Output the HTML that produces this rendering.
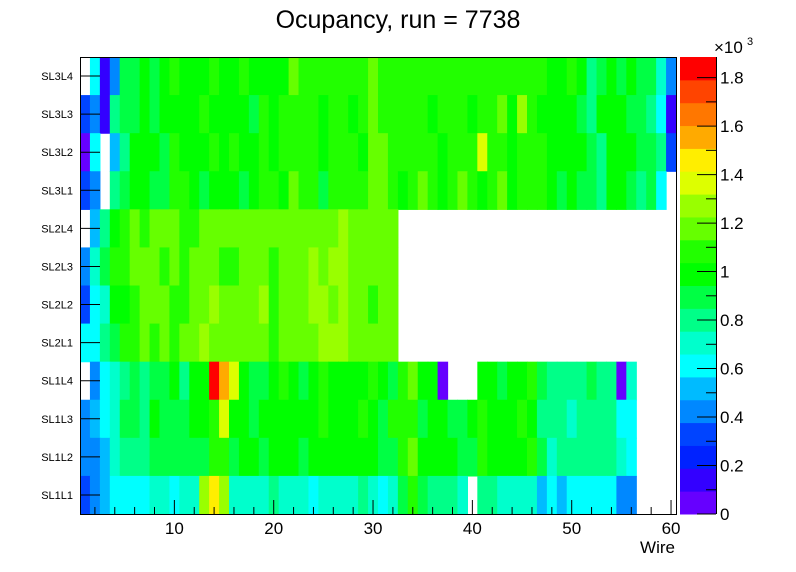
<!DOCTYPE html>
<html><head><meta charset="utf-8"><style>
html,body{margin:0;padding:0;background:#fff;}
svg{display:block;font-family:"Liberation Sans",sans-serif;}
</style></head><body>
<svg id="s" width="796" height="572" xmlns="http://www.w3.org/2000/svg">
<rect width="796" height="572" fill="#fff"/>
<g id="cells"></g>
<g id="pal"></g>
<text x="398" y="28" font-size="25" text-anchor="middle">Ocupancy, run = 7738</text>
<text x="675" y="553" font-size="17" text-anchor="end">Wire</text>
<text x="714" y="53" font-size="17">×10</text><text x="747" y="45" font-size="11">3</text>
<g id="ax" stroke="#000" stroke-width="1" fill="none"></g>
<g id="lbl" font-size="17"></g>
</svg>
<script>
var pal=["#6600ff","#3300ff","#0022ff","#0044ff","#0088ff","#00bbff","#00ffff","#00ffcc","#00ff88","#00ff44","#00ff00","#22ff00","#66ff00","#99ff00","#ddff00","#ffee00","#ffaa00","#ff7700","#ff4400","#ff0000"];
var rows=[
".6149 9a9abaaabaabaaaacbbbbbbbcbbbbbbbbbbbbbbbbbaaba89a9a9974",
"341899a9aaaabaaaa9babbbbabbabcbbbbbabbbabbcadbaaaa98aaa99861",
"06.58aaa9baaababaababbbbabbbaccbbbbbabbbebbabbbaaaa98aaa9983",
"34.89aa99bba9aaa9abbacbb9bbbbccbabcbabcbabcabbba9a998aa9896.",
".58abcbcccbbccccccccccccccdccccc............................",
"479bbcccbcbcccbbcccbcccdcddccccc............................",
"367aabcccbbccdccccdbcccddcdccbcc............................",
"6689bbcbcbccdccccccbccccdddccccc............................",
".46789899a8aajgea99aba9abaaaaba9bcaa0...aa9aab98888988 07....",
"4567998a999aabeaa9aaaaaabaaaba9bbb9aa99abaaaba88878888 66....",
"4457888999999bb9aa9aaa9aaaaaaa99bcaaaa99baaaab97888888 76....",
"345666677677dfd7777877767777879b98887.887777565666664 4...."
];
// fix accidental spaces / lengths
rows=rows.map(function(r){return r.replace(/ /g,"");});
rows[0]=".614"+"99"+"a9ab"+"aaa"+"b"+"aa"+"b"+"aaaa"+"c"+"bbbbbbb"+"c"+"bbbbbbbbbbbbbbbbb"+"aa"+"ba"+"89a9a"+"99"+"74";
rows[11]="345666677677dfd7777877767777"+"87"+"679b98887.887777565666664"+"4....";
var NS="http://www.w3.org/2000/svg";
function el(p,t,a){var e=document.createElementNS(NS,t);for(var k in a)e.setAttribute(k,a[k]);p.appendChild(e);return e;}
var X0=80,X1=676,Y0=57,Y1=514,bw=(X1-X0)/60,rh=(Y1-Y0)/12;
var cg=document.getElementById("cells");
for(var r=0;r<12;r++){var s=rows[r];for(var c=0;c<60&&c<s.length;c++){var ch=s[c];if(ch=='.')continue;var v=/[0-9]/.test(ch)?+ch:ch.charCodeAt(0)-87;
el(cg,"rect",{x:(X0+c*bw).toFixed(2),y:(Y0+r*rh).toFixed(2),width:(bw+0.6).toFixed(2),height:(rh+0.6).toFixed(2),fill:pal[v]});}}
var pg=document.getElementById("pal");var PX0=680,PX1=716,ph=(Y1-Y0)/20;
for(var i=0;i<20;i++)el(pg,"rect",{x:PX0,y:(Y1-(i+1)*ph).toFixed(2),width:PX1-PX0,height:(ph+0.5).toFixed(2),fill:pal[i]});
var ax=document.getElementById("ax"),lb=document.getElementById("lbl");
el(ax,"rect",{x:X0+0.5,y:Y0+0.5,width:X1-X0,height:Y1-Y0});
el(ax,"line",{x1:PX1+0.5,y1:Y0,x2:PX1+0.5,y2:Y1});
// x ticks
for(var w=2;w<=60;w+=2){var x=X0+(w-0.5)*bw;var L=(w%10==0)?14:7;el(ax,"line",{x1:x,y1:Y1,x2:x,y2:Y1-L});}
for(var w=10;w<=60;w+=10){var t=el(lb,"text",{x:X0+(w-0.5)*bw,y:Y1+20,"text-anchor":"middle"});t.textContent=w;}
// y ticks / labels
var names=["SL3L4","SL3L3","SL3L2","SL3L1","SL2L4","SL2L3","SL2L2","SL2L1","SL1L4","SL1L3","SL1L2","SL1L1"];
for(var r=0;r<12;r++){var y=Y0+(r+0.5)*rh;el(ax,"line",{x1:X0,y1:y,x2:X0+20,y2:y});var t=el(lb,"text",{x:73,y:y+4,"text-anchor":"end","font-size":"11"});t.textContent=names[r];}
// palette ticks
var scale=(Y1-Y0)/1885;
for(var v=0;v<=1800;v+=100){var y=Y1-v*scale;var L=(v%200==0)?19:10;el(ax,"line",{x1:PX1,y1:y,x2:PX1-L,y2:y});}
var plab=["0","0.2","0.4","0.6","0.8","1","1.2","1.4","1.6","1.8"];
for(var i=0;i<10;i++){var y=Y1-i*200*scale;var t=el(lb,"text",{x:720,y:y+6});t.textContent=plab[i];}
</script>
</body></html>
